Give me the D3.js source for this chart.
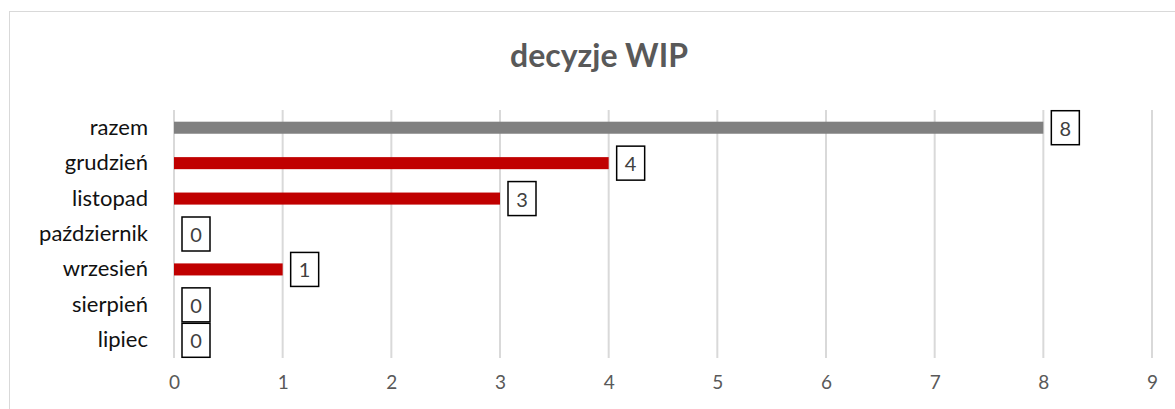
<!DOCTYPE html>
<html>
<head>
<meta charset="utf-8">
<script src="https://cdn.jsdelivr.net/npm/d3@7"></script>
<style>
  body { margin: 0; background: #fff; }
  svg { display: block; font-family: Lato, "Open Sans", sans-serif; }
</style>
</head>
<body>
<div id="chart"></div>
<script>
// dane
const categories = ["razem", "grudzień", "listopad", "październik", "wrzesień", "sierpień", "lipiec"];
const values = [8, 4, 3, 0, 1, 0, 0];
const barColors = ["#808080", "#c00000", "#c00000", "#c00000", "#c00000", "#c00000", "#c00000"];
const ticks = [0, 1, 2, 3, 4, 5, 6, 7, 8, 9];
const title = "decyzje WIP";

const width = 1175, height = 409;
const margin = { left: 174, right: 23, top: 110, bottom: 51 };

const svg = d3.select("#chart").append("svg")
    .attr("width", width)
    .attr("height", height);

// ramka wykresu
svg.append("rect")
    .attr("x", 9.5).attr("y", 11.5)
    .attr("width", 1180).attr("height", 420)
    .attr("fill", "none")
    .attr("stroke", "#d9d9d9");

svg.append("text")
    .attr("x", 599).attr("y", 67)
    .attr("text-anchor", "middle")
    .style("font-size", "32px")
    .style("font-weight", "bold")
    .style("fill", "#595959")
    .text(title);

const x = d3.scaleLinear()
    .domain([0, 9])
    .range([margin.left, width - margin.right]);

const y = d3.scaleBand()
    .domain(categories)
    .range([margin.top, height - margin.bottom])
    .paddingInner(0.66)
    .paddingOuter(0.33);

// siatka
svg.append("g")
    .selectAll("line")
    .data(ticks)
    .join("line")
    .attr("x1", d => x(d)).attr("x2", d => x(d))
    .attr("y1", margin.top).attr("y2", height - margin.bottom)
    .attr("stroke", "#d9d9d9")
    .attr("stroke-width", 2);

// oś X
const xAxis = svg.append("g")
    .attr("transform", `translate(0,${height - margin.bottom})`)
    .call(d3.axisBottom(x).tickValues(ticks).tickSize(0).tickPadding(18).tickFormat(d3.format("d")));
xAxis.select(".domain").remove();
xAxis.selectAll("text")
    .style("font-size", "19px")
    .style("font-family", "Lato, 'Open Sans', sans-serif")
    .style("fill", "#595959");

// oś Y
const yAxis = svg.append("g")
    .attr("transform", `translate(${margin.left},0)`)
    .call(d3.axisLeft(y).tickSize(0).tickPadding(26));
yAxis.select(".domain").remove();
yAxis.selectAll("text")
    .style("font-size", "22px")
    .style("font-family", "Lato, 'Open Sans', sans-serif")
    .style("fill", "#111");

// słupki
svg.append("g")
    .selectAll("rect")
    .data(categories)
    .join("rect")
    .attr("x", x(0))
    .attr("y", d => y(d))
    .attr("width", (d, i) => x(values[i]) - x(0))
    .attr("height", y.bandwidth())
    .attr("fill", (d, i) => barColors[i]);

// etykiety danych
const labels = svg.append("g")
    .selectAll("g")
    .data(categories)
    .join("g")
    .attr("transform", (d, i) => `translate(${x(values[i]) + 8},${y(d) + y.bandwidth() / 2})`);

labels.append("rect")
    .attr("x", 0).attr("y", -17)
    .attr("width", 28).attr("height", 34)
    .attr("fill", "#fff")
    .attr("stroke", "#000")
    .attr("stroke-width", 1.5);

labels.append("text")
    .attr("x", 14).attr("y", 1)
    .attr("dy", "0.35em")
    .attr("text-anchor", "middle")
    .style("font-size", "20px")
    .style("fill", "#404040")
    .text((d, i) => values[i]);
</script>
</body>
</html>
